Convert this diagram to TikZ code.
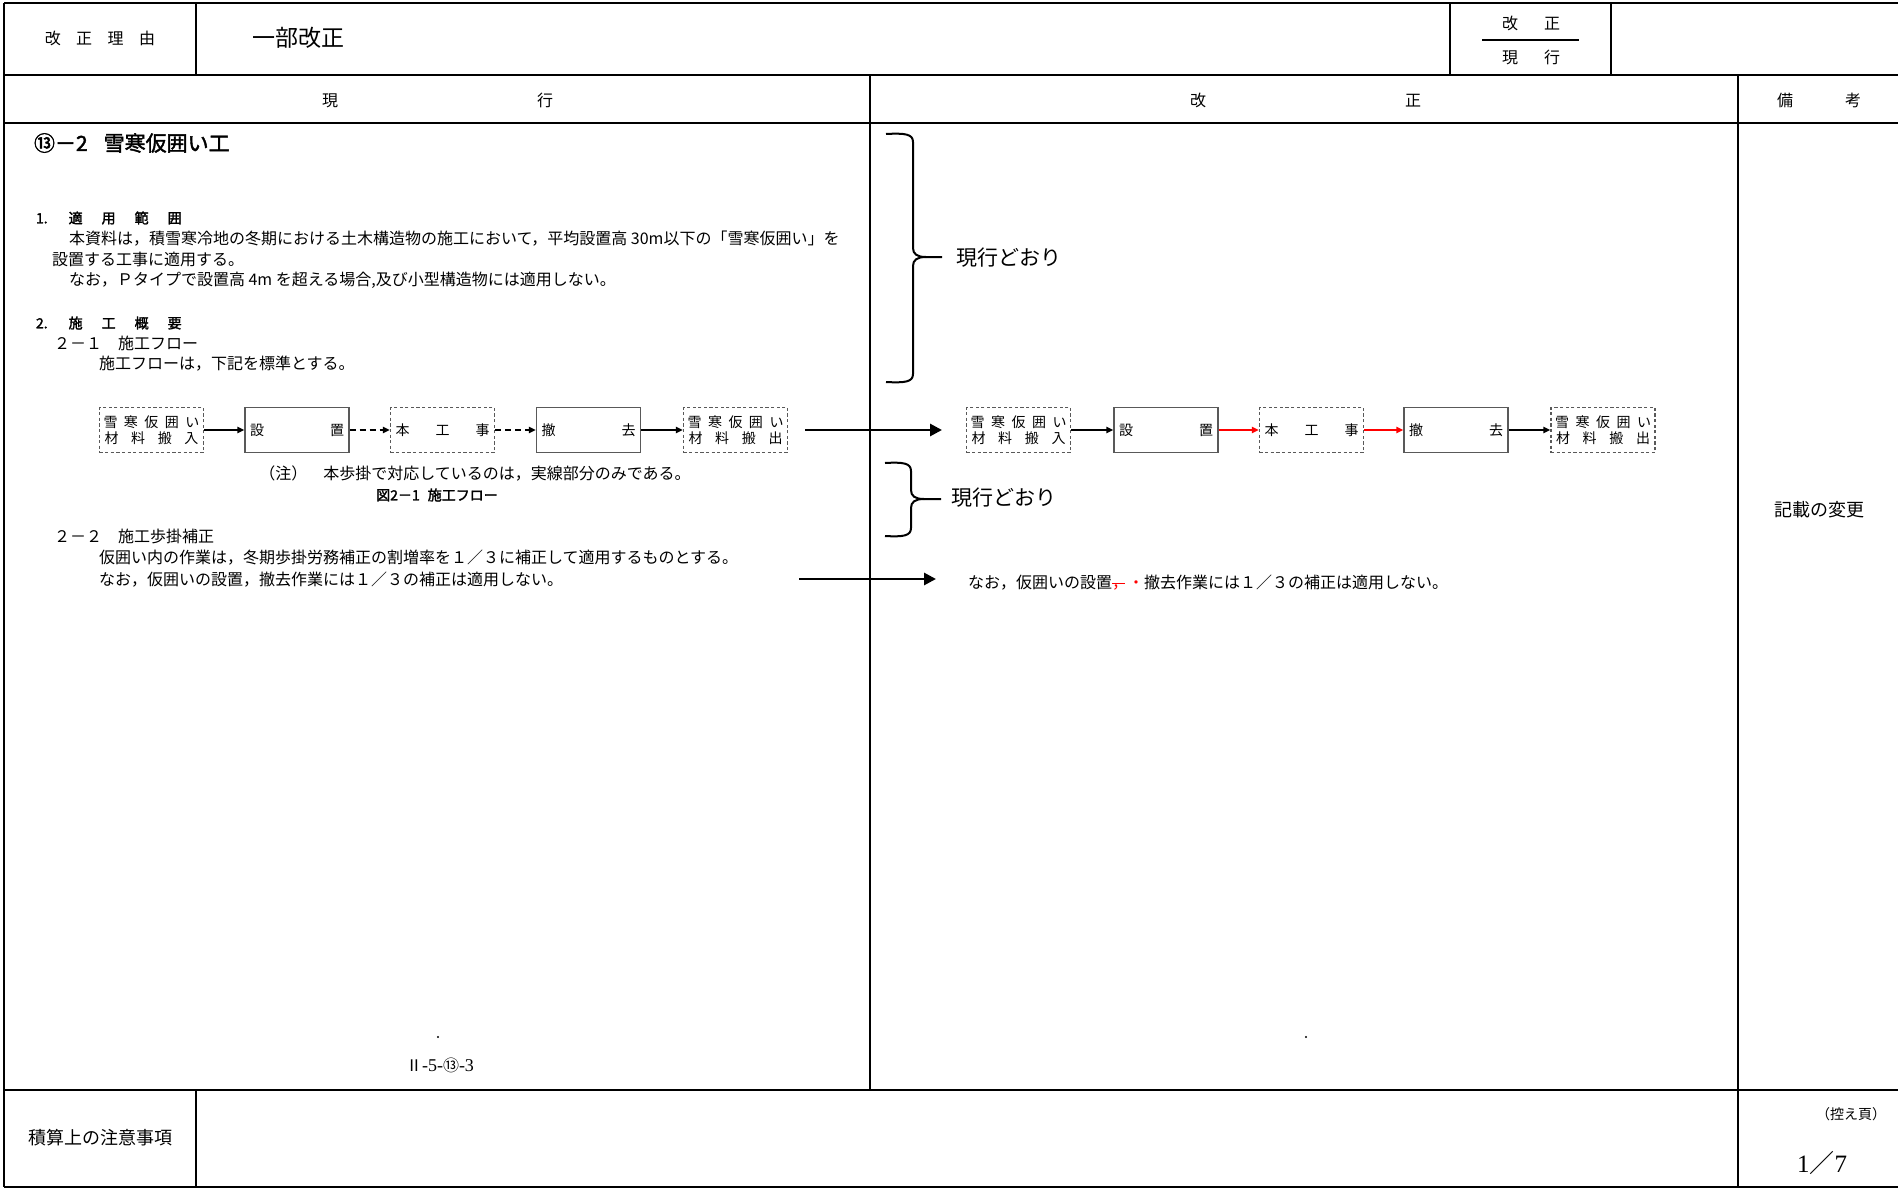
\documentclass[tikz,border=0pt]{standalone}
\usepackage{fontspec}
\setmainfont{Noto Sans CJK JP}[AutoFakeBold=2]
\newfontfamily\serifnum{Liberation Serif}
\usetikzlibrary{arrows.meta}
\begin{document}
\begin{tikzpicture}[x=0.5pt,y=-0.5pt,
  frame/.style={line width=1.4pt},
  tx/.style={inner sep=0pt, outer sep=0pt, font=\fontsize{8}{10}\selectfont},
  txw/.style={tx, anchor=west},
  bx/.style={draw=black!65, line width=0.7pt, minimum width=52pt, minimum height=22.5pt, inner sep=0pt, font=\fontsize{7}{8}\selectfont, align=center},
  dbx/.style={bx, dash pattern=on 1.6pt off 1.2pt},
  fl/.style={-{Triangle[length=3.5pt,width=3.2pt]}, line width=0.8pt},
  dfl/.style={fl, dash pattern=on 3pt off 2pt},
  rfl/.style={fl, red},
  bigar/.style={-{Triangle[length=6pt,width=6pt]}, line width=1.4pt},
  brc/.style={line width=1pt},
  hd/.style={tx, font=\bfseries\fontsize{7}{9}\selectfont, anchor=west},
  note/.style={tx, font=\fontsize{10.5}{12}\selectfont, anchor=west},
]
\useasboundingbox (0,0) rectangle (1898,1188);
\fill[white] (0,0) rectangle (1898,1188);

% ---------- frame ----------
\draw[frame] (4,3) -- (1898,3);
\draw[frame] (4,3) -- (4,1187);
\draw[frame] (4,1187) -- (1898,1187);
\draw[frame] (4,75) -- (1898,75);
\draw[frame] (4,123) -- (1898,123);
\draw[frame] (4,1090) -- (1898,1090);
\draw[frame] (196,3) -- (196,75);
\draw[frame] (1450,3) -- (1450,75);
\draw[frame] (1611,3) -- (1611,75);
\draw[frame] (870,75) -- (870,1090);
\draw[frame] (1738,75) -- (1738,1187);
\draw[frame] (196,1090) -- (196,1187);

% ---------- header ----------
\node[tx] (riyu) at (100,38) {改\hspace{7.75pt}正\hspace{7.75pt}理\hspace{7.75pt}由};
\node[tx, anchor=west, font=\fontsize{11.5}{14}\selectfont] (ichibu) at (252,38) {一部改正};
\node[tx] (kaiseiH) at (1531,23) {改\hspace{13pt}正};
\node[tx] (genkoH) at (1531,57) {現\hspace{13pt}行};
\draw[line width=1pt] (1482,40) -- (1579,40);

\node[tx] (colL) at (437.5,100) {現\hspace{99.5pt}行};
\node[tx] (colR) at (1305.5,100) {改\hspace{99.5pt}正};
\node[tx] (colB) at (1819,100) {備\hspace{26pt}考};

% ---------- left column text ----------
\node[tx, anchor=west, font=\bfseries\fontsize{10.5}{12}\selectfont] (title) at (34,143) {⑬－2\hspace{8pt}雪寒仮囲い工};
\node[hd] (s1) at (36,218) {1.\hspace{10.5pt}適\hspace{9.5pt}用\hspace{9.5pt}範\hspace{9.5pt}囲};
\node[txw] (p1) at (69,239) {本資料は，積雪寒冷地の冬期における土木構造物の施工において，平均設置高 30m以下の「雪寒仮囲い」を};
\node[txw] (p2) at (52,259) {設置する工事に適用する。};
\node[txw] (p3) at (69,280) {なお，Ｐタイプで設置高 4m を超える場合,及び小型構造物には適用しない。};
\node[hd] (s2) at (36,323) {2.\hspace{10.5pt}施\hspace{9.5pt}工\hspace{9.5pt}概\hspace{9.5pt}要};
\node[txw] (s21) at (54,343) {２－１　施工フロー};
\node[txw] (p4) at (99,364) {施工フローは，下記を標準とする。};

% left flow
\node[dbx] (L1) at (151.5,430) {\makebox[48pt]{雪\hfill 寒\hfill 仮\hfill 囲\hfill い}\\\makebox[47pt]{材\hfill 料\hfill 搬\hfill 入}};
\node[bx]  (L2) at (297,430) {\makebox[47pt]{設\hfill 置}};
\node[dbx] (L3) at (442.5,430) {\makebox[47pt]{本\hfill 工\hfill 事}};
\node[bx]  (L4) at (588.5,430) {\makebox[47pt]{撤\hfill 去}};
\node[dbx] (L5) at (735.5,430) {\makebox[48pt]{雪\hfill 寒\hfill 仮\hfill 囲\hfill い}\\\makebox[47pt]{材\hfill 料\hfill 搬\hfill 出}};
\draw[fl]  (L1) -- (L2);
\draw[dfl] (L2) -- (L3);
\draw[dfl] (L3) -- (L4);
\draw[fl]  (L4) -- (L5);

\node[tx] (chu) at (475,474) {（注）　本歩掛で対応しているのは，実線部分のみである。};
\node[tx, font=\bfseries\fontsize{7}{9}\selectfont] (zu) at (437,495) {図2－1\hspace{4pt}施工フロー};

\node[txw] (s22) at (54,536) {２－２　施工歩掛補正};
\node[txw] (p5) at (99,558) {仮囲い内の作業は，冬期歩掛労務補正の割増率を１／３に補正して適用するものとする。};
\node[txw] (p6) at (99,580) {なお，仮囲いの設置，撤去作業には１／３の補正は適用しない。};

% cross arrows
\coordinate (a1s) at (805,430);
\coordinate (a1e) at (942,430);
\draw[bigar] (a1s) -- (a1e);
\coordinate (a2s) at (799,579);
\coordinate (a2e) at (936,579);
\draw[bigar] (a2s) -- (a2e);

% page number
\fill (438,1037) circle[radius=0.6pt];
\fill (1306,1037) circle[radius=0.6pt];
\node[tx] (pg) at (440,1065) {Ⅱ{\serifnum\fontsize{9}{10}\selectfont -5-}⑬{\serifnum\fontsize{9}{10}\selectfont -3}};

% ---------- right column ----------
\draw[brc] (886,134) .. controls (905,133) and (913,134) .. (913,142) -- (913,248)
  .. controls (913,254) and (917,257) .. (926,257) -- (942,257);
\draw[brc] (886,382) .. controls (905,383) and (913,382) .. (913,374) -- (913,266)
  .. controls (913,260) and (917,257) .. (926,257);
\node[note] (same1) at (956,258) {現行どおり};

\draw[brc] (885,463) .. controls (903,462) and (911,463) .. (911,471) -- (911,490)
  .. controls (911,496) and (915,499) .. (924,499) -- (941,499);
\draw[brc] (885,536) .. controls (903,537) and (911,536) .. (911,528) -- (911,508)
  .. controls (911,502) and (915,499) .. (924,499);
\node[note] (same2) at (951,498) {現行どおり};

% right flow
\node[dbx] (R1) at (1018.5,430) {\makebox[48pt]{雪\hfill 寒\hfill 仮\hfill 囲\hfill い}\\\makebox[47pt]{材\hfill 料\hfill 搬\hfill 入}};
\node[bx]  (R2) at (1166,430) {\makebox[47pt]{設\hfill 置}};
\node[dbx] (R3) at (1311.5,430) {\makebox[47pt]{本\hfill 工\hfill 事}};
\node[bx]  (R4) at (1456,430) {\makebox[47pt]{撤\hfill 去}};
\node[dbx] (R5) at (1603,430) {\makebox[48pt]{雪\hfill 寒\hfill 仮\hfill 囲\hfill い}\\\makebox[47pt]{材\hfill 料\hfill 搬\hfill 出}};
\draw[fl]  (R1) -- (R2);
\draw[rfl] (R2) -- (R3);
\draw[rfl] (R3) -- (R4);
\draw[fl]  (R4) -- (R5);

\node[txw] (p7) at (968,583) {なお，仮囲いの設置\textcolor{red}{\makebox[0pt][l]{\rule[0.3em]{0.8em}{0.4pt}}，・}撤去作業には１／３の補正は適用しない。};

% remarks
\node[tx, font=\fontsize{9}{11}\selectfont] (henko) at (1819,510) {記載の変更};

% ---------- bottom row ----------
\node[tx, font=\fontsize{9}{11}\selectfont] (chui) at (100,1138) {積算上の注意事項};
\node[tx, font=\fontsize{7}{9}\selectfont, anchor=east] (hikae) at (1886,1114) {（控え頁）};
\node[tx, font=\fontsize{12.5}{14}\selectfont] (pp) at (1822,1163) {{\serifnum 1}／{\serifnum 7}};
\end{tikzpicture}
\end{document}
